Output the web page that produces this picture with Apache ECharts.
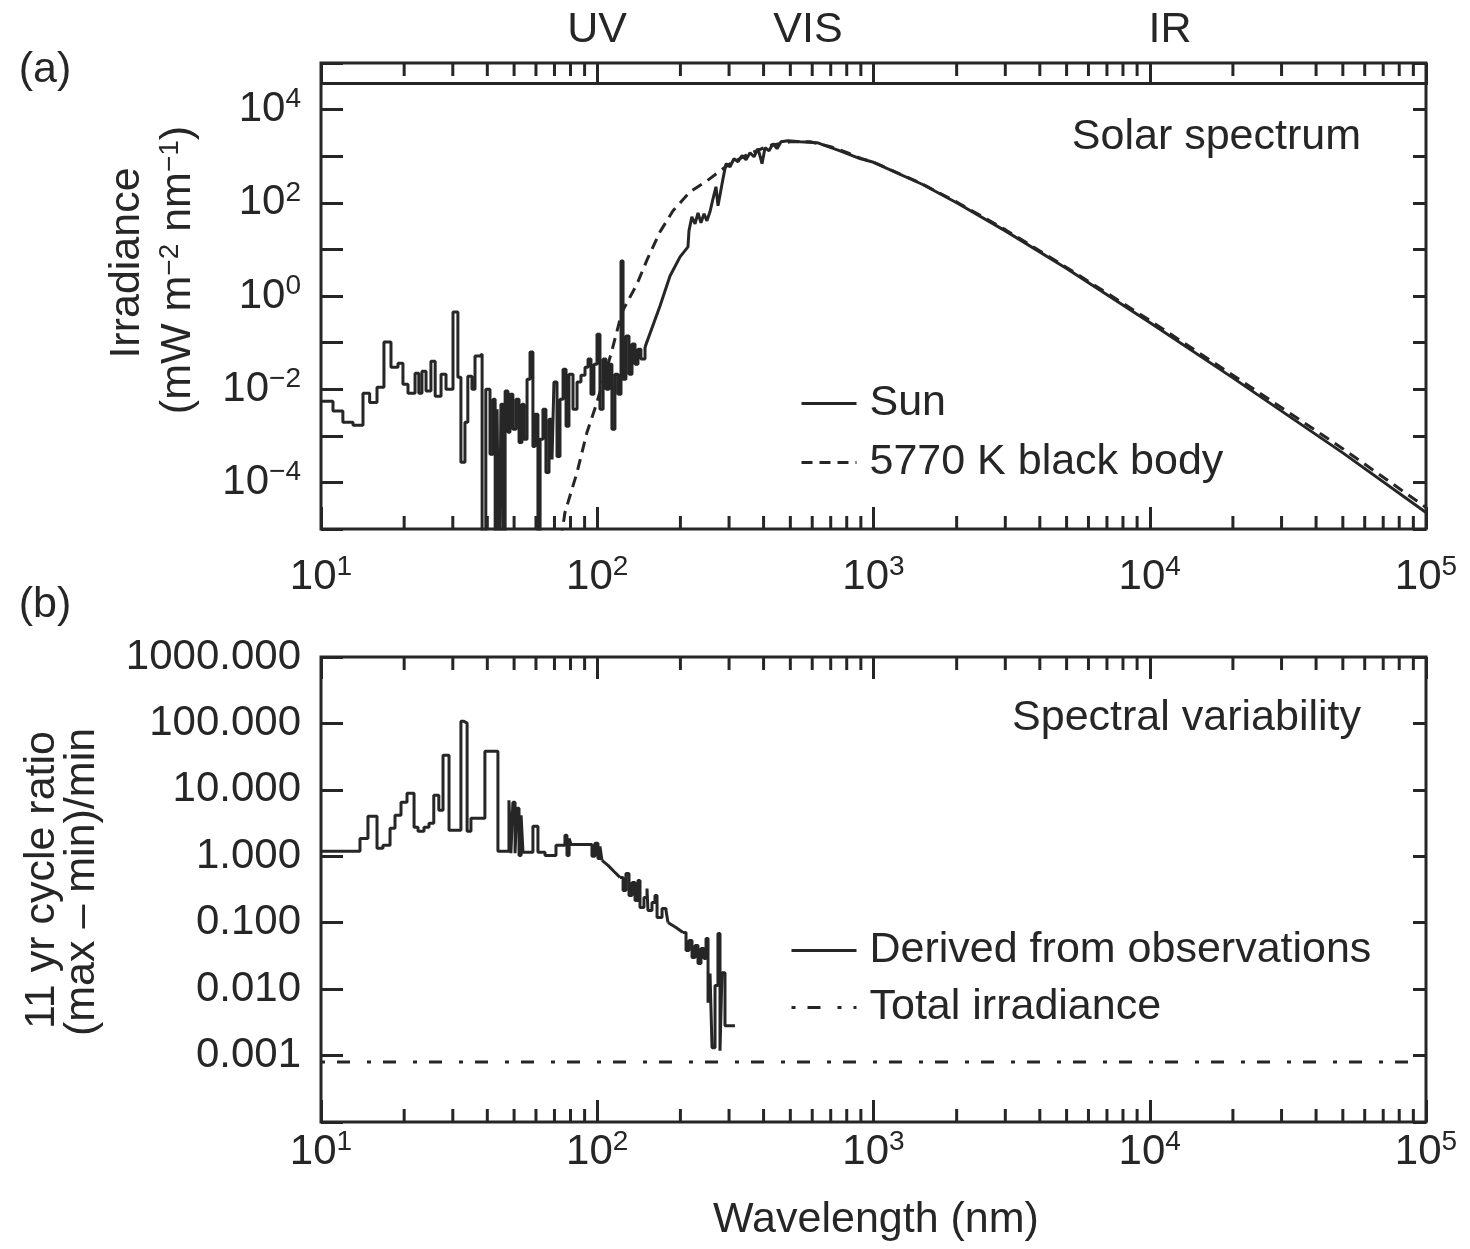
<!DOCTYPE html>
<html>
<head>
<meta charset="utf-8">
<script src="https://cdn.jsdelivr.net/npm/echarts@6/dist/echarts.min.js"></script>
<style>
  html, body { margin: 0; padding: 0; background: #ffffff; }
  #chart { width: 1470px; height: 1249px; }
</style>
</head>
<body>
<div id="chart"></div>
<script>
// ---- data -----------------------------------------------------------------
// Solar spectral irradiance (nm, mW m-2 nm-1); binned below ~149 nm
const sunWavelength = [
  10, 11.05, 12.0, 13.06, 14.19, 15.0, 15.95, 16.9, 17.92, 19.0,
  19.8, 20.65, 21.9, 22.6, 23.2, 24.0, 25.0, 25.9, 27.2, 28.35,
  30.05, 31.3, 32.1, 33.2, 34.0, 35.2, 36.1, 37.6, 38.3, 39.5,
  40.9, 41.95, 42.7, 43.4, 44.1, 44.8, 45.6, 46.4, 47.5, 48.3,
  49.5, 50.8, 52.1, 53.4, 54.3, 55.7, 57.1, 58.5, 59.5, 61.0,
  62.1, 63.6, 65.2, 66.9, 68.6, 69.7, 71.5, 73.3, 75.2, 77.1,
  79.0, 81.7, 84.5, 87.3, 90.3, 92.6, 94.9, 97.3, 99.8, 102.3,
  105, 107.6, 110.3, 113, 115.9, 118.9, 121.9, 124, 127, 130.3,
  133.6, 137, 140.4, 143.9, 148.9,
  168.7, 183.4, 199.4, 213, 214.8, 220, 225.9, 231.6, 237.4, 243.5,
  249.5, 255.9, 262.4, 269, 273.6, 285.2, 292.4, 302.4, 312.6, 323.2,
  334.2, 345.6, 357.3, 369.4, 382, 394.9, 404.9, 418.6, 432.8, 447.4,
  462.6, 490.4, 542, 624.5, 756.5, 893, 1000, 1500, 2000, 3000,
  5000, 10000, 20000, 50000, 100000
];
const sunIrradiance = [
  5.5e-3, 3.4e-3, 1.95e-3, 1.68e-3, 8.2e-3, 5.2e-3, 0.011, 0.1025, 0.0297, 0.0362,
  0.0128, 8.2e-3, 0.0221, 8.2e-3, 0.0244, 9.1e-3, 0.04, 7.1e-3, 0.021, 0.01,
  0.453, 0.0181, 2.7e-4, 1.95e-3, 0.019, 0.01, 0.0513, 0.0566, 1e-7, 0.01,
  4.0e-4, 6.1e-3, 1e-7, 3.7e-3, 1e-7, 4.75e-3, 1e-7, 9.1e-3, 1.19e-3, 7.8e-3,
  1.38e-3, 6.1e-3, 7.2e-4, 4.75e-3, 8.4e-4, 0.0164, 0.0625, 5.9e-4, 2.9e-3, 1e-7,
  8.4e-4, 3.7e-3, 1.64e-4, 2.26e-3, 3.1e-4, 0.0142, 3.6e-4, 6.1e-3, 0.0269, 1.6e-3,
  0.021, 3.7e-3, 0.0142, 0.02, 0.0297, 0.0442, 7.8e-3, 0.0345, 0.152, 3.7e-3,
  0.0442, 0.01, 0.0345, 1.38e-3, 0.021, 7.8e-3, 5.66, 0.0164, 0.138, 0.021,
  0.093, 0.0345, 0.0724, 0.0442, 0.08,
  0.61, 2.69, 6.9, 11.3, 25, 50, 35.3, 61, 37.2, 58,
  41, 64, 122, 221, 86, 328, 690, 594, 883, 762,
  1026, 841, 1189, 975, 1449, 690, 1525, 1312, 1858, 1449,
  2052, 2153, 2052, 1951, 1300, 890, 740, 250, 100, 25,
  3.9, 0.27, 0.0175, 4.3e-4, 2.26e-5
];
// wavelength where the binned part of the solar curve ends
const sunBinnedUntil = 148.9;

// 5770 K black body (nm, mW m-2 nm-1)
const blackBodyWavelength = [
  73.9, 76.4, 84.5, 91.8, 99.0, 112.1, 122.9, 139.3, 151.4, 168.7,
  188, 216.7, 249.7, 285.2, 302.4, 357, 422, 500, 590, 700,
  800, 900, 1000, 1500, 2000, 3000, 5000, 10000, 20000, 50000,
  100000
];
const blackBodyIrradiance = [
  5.9e-6, 2.26e-5, 1.64e-4, 1.19e-3, 4.5e-3, 0.0566, 0.453, 1.81, 5.94, 23.8,
  67.3, 173, 297, 538, 690, 1150, 1700, 2050, 2050, 1600,
  1200, 900, 745, 255, 104, 26.5, 4.1, 0.30, 0.0200, 5.3e-4,
  2.9e-5
];

// 11-year cycle (max - min)/min ratio derived from observations
const variabilityWavelength = [
  10, 13.84, 14.79, 15.95, 16.76, 17.78, 18.53, 19.48, 20.48, 21.72,
  22.45, 23.6, 24.6, 25.6, 26.7, 27.65, 29.07, 32.1, 32.9, 33.8,
  34.9, 39.2, 43.7, 47.9, 48.7, 49.5, 50.4, 51.2, 52.1, 53.0,
  53.85, 58.5, 61.0, 64.7, 70.9, 76.4, 77.7, 79.1, 80.4, 95.7,
  98.1, 100.6, 102.3, 104, 109.4, 115, 120.9, 124, 127, 130.3,
  133.6, 137, 140.4, 142.8, 147.6, 151.4, 152.6, 157.8, 161.8, 164.6,
  171.6, 177.4, 180.3, 192.8, 204.4, 209.6, 214.8, 220.3, 225.9, 231.6,
  237.4, 243.4, 247.6, 251.8, 256.0, 260.3, 266.9, 273.5, 278.2, 282.8,
  290, 315.1
];
const variabilityRatio = [
  1.19, 1.86, 4.0, 1.32, 1.46, 2.64, 4.14, 6.5, 8.9, 2.73,
  2.38, 2.73, 3.13, 8.3, 4.92, 33.3, 2.46, 108, 101, 2.38,
  3.73, 38.2, 1.19, 6.97, 1.11, 6.5, 1.11, 5.27, 1.03, 4.14,
  1.15, 2.83, 1.15, 1.03, 1.46, 2.07, 1.03, 1.86, 1.51, 1.0,
  1.57, 0.93, 1.41, 0.867, 0.73, 0.59, 0.481, 0.306, 0.552, 0.257,
  0.404, 0.216, 0.433, 0.169, 0.24, 0.328, 0.153, 0.202, 0.257, 0.12,
  0.164, 0.153, 0.1007, 0.0847, 0.0711, 0.0381, 0.054, 0.0299, 0.0453, 0.0243,
  0.0408, 0.0289, 0.0578, 0.00625, 0.0171, 0.00131, 0.0113, 0.0687, 0.00118, 0.0177,
  0.00281, 0.00281
];
// wavelength spans drawn as straight segments rather than bins
const variabilitySlopes = [[104, 120.9], [180.3, 204.4]];

// total solar irradiance cycle ratio
const totalIrradianceRatio = 0.0008;

// spectral regions named along the top
const regionNames = ['UV', 'VIS', 'IR'];

// ---- styling ----------------------------------------------------------------
const INK = '#262626';
const FONT = '"Liberation Sans", Arial, Helvetica, sans-serif';
const FS = 42;      // tick labels
const FT = 43;      // titles, notes, legend
const SUP = 28;
const LW = 3;

const richPow = {
  b: { fontSize: FS, fontFamily: FONT, color: INK, lineHeight: 48 },
  s: { fontSize: SUP, fontFamily: FONT, color: INK, lineHeight: 30, verticalAlign: 'top' }
};
function powerLabel(e) {
  return '{b|10}{s|' + (e < 0 ? '\u2212' : '') + Math.abs(e) + '}';
}
function expOf(v) { return Math.round(Math.log10(v)); }

function pairs(xs, ys, keep) {
  const out = [];
  for (let i = 0; i < xs.length; i++) if (!keep || keep(xs[i])) out.push([xs[i], ys[i]]);
  return out;
}

// minor ticks at 2..9 x 10^k across the wavelength range
const minorTicks = [];
for (let k = 1; k < 5; k++) for (let m = 2; m <= 9; m++) minorTicks.push(m * Math.pow(10, k));

function minorTickSeries(xi, yi) {
  return {
    type: 'custom', xAxisIndex: xi, yAxisIndex: yi, silent: true, z: 4,
    data: minorTicks.map(v => [v]),
    renderItem(params, api) {
      const cs = params.coordSys;
      const x = api.coord([api.value(0), 1])[0];
      const st = { stroke: INK, lineWidth: 3 };
      return {
        type: 'group', children: [
          { type: 'line', shape: { x1: x, y1: cs.y + cs.height, x2: x, y2: cs.y + cs.height - 13 }, style: st },
          { type: 'line', shape: { x1: x, y1: cs.y, x2: x, y2: cs.y + 13 }, style: st }
        ]
      };
    }
  };
}

function logAxis(extra) {
  return Object.assign({
    type: 'log', logBase: 10, interval: 1,
    axisLine: { show: false },
    splitLine: { show: false },
    minorTick: { show: false },
    axisTick: { show: true, inside: true, length: 22, lineStyle: { color: INK, width: 3 } },
    axisLabel: { show: false }
  }, extra);
}

const grids = [
  { left: 321, right: 44, top: 63, height: 466 },
  { left: 321, right: 44, top: 657, height: 465 }
].map(g => Object.assign(g, { show: true, borderColor: INK, borderWidth: 3, backgroundColor: 'transparent' }));

const xAxes = [
  logAxis({ gridIndex: 0, position: 'bottom', min: 10, max: 100000,
    axisLabel: { show: true, margin: 24, formatter: v => powerLabel(expOf(v)), rich: richPow } }),
  logAxis({ gridIndex: 0, position: 'top', min: 10, max: 100000 }),
  logAxis({ gridIndex: 1, position: 'bottom', min: 10, max: 100000,
    axisLabel: { show: true, margin: 6, formatter: v => powerLabel(expOf(v)), rich: richPow } }),
  logAxis({ gridIndex: 1, position: 'top', min: 10, max: 100000 })
];

const yAxes = [
  logAxis({ gridIndex: 0, position: 'left', min: 1e-5, max: 1e5,
    axisLabel: { show: true, margin: 20, rich: richPow,
      formatter: v => { const e = expOf(v); return (e % 2 === 0 && e >= -4 && e <= 4) ? powerLabel(e) : ''; } } }),
  logAxis({ gridIndex: 0, position: 'right', min: 1e-5, max: 1e5,
    axisTick: { show: true, inside: true, length: 13, lineStyle: { color: INK, width: 3 } } }),
  logAxis({ gridIndex: 1, position: 'left', min: 1e-4, max: 1e3,
    axisLabel: { show: true, margin: 20, fontSize: FS, fontFamily: FONT, color: INK,
      formatter: v => { const e = expOf(v); return (e >= -3 && e <= 3) ? Math.pow(10, e).toFixed(3) : ''; } } }),
  logAxis({ gridIndex: 1, position: 'right', min: 1e-4, max: 1e3,
    axisTick: { show: true, inside: true, length: 13, lineStyle: { color: INK, width: 3 } } })
];

const baseLine = (extra) => Object.assign({
  type: 'line', symbol: 'none', showSymbol: false, clip: true, silent: true,
  lineStyle: { color: INK, width: LW }, itemStyle: { color: INK }, z: 3
}, extra);

const variabilitySeries = [];
// binned runs between the straight spans
const cuts = [variabilityWavelength[0]].concat(...variabilitySlopes).concat([variabilityWavelength[variabilityWavelength.length - 1]]);
for (let i = 0; i < cuts.length - 1; i++) {
  const a = cuts[i], b = cuts[i + 1];
  const sloped = variabilitySlopes.some(r => r[0] === a && r[1] === b);
  variabilitySeries.push(baseLine({
    name: 'Derived from observations', xAxisIndex: 2, yAxisIndex: 2,
    step: sloped ? false : 'end',
    data: pairs(variabilityWavelength, variabilityRatio, w => w >= a && w <= b)
  }));
}

const series = [
  baseLine({ name: 'Sun', xAxisIndex: 0, yAxisIndex: 0, step: 'end',
    data: pairs(sunWavelength, sunIrradiance, w => w <= sunBinnedUntil),
    markLine: { silent: true, symbol: 'none', label: { show: false }, animation: false,
      lineStyle: { color: INK, width: 3, type: 'solid' }, data: [{ yAxis: 36200 }] } }),
  baseLine({ name: 'Sun', xAxisIndex: 0, yAxisIndex: 0,
    data: pairs(sunWavelength, sunIrradiance, w => w >= sunBinnedUntil) }),
  baseLine({ name: '5770 K black body', xAxisIndex: 0, yAxisIndex: 0,
    lineStyle: { color: INK, width: LW, type: [11, 7] },
    data: pairs(blackBodyWavelength, blackBodyIrradiance) }),
  ...variabilitySeries,
  baseLine({ name: 'Total irradiance', xAxisIndex: 2, yAxisIndex: 2,
    lineStyle: { color: INK, width: LW, type: [4, 12, 13, 17] },
    data: [[10, totalIrradianceRatio], [100000, totalIrradianceRatio]] }),
  minorTickSeries(0, 0),
  minorTickSeries(2, 2)
];

const legendText = { fontSize: FT, fontFamily: FONT, color: INK, padding: [0, 0, 0, 8] };
const legendCommon = {
  orient: 'vertical', itemHeight: 41, selectedMode: false, textStyle: legendText,
  itemStyle: { opacity: 0 },
  lineStyle: { width: LW }
};

function txt(x, y, text, opts) {
  return {
    type: 'text', x: x, y: y, silent: true,
    style: Object.assign({ text: text, fontSize: FT, fontFamily: FONT, fill: INK,
      align: 'center', verticalAlign: 'middle', textAlign: 'center', textVerticalAlign: 'middle' }, opts || {})
  };
}
const richTitle = {
  s: { fontSize: SUP, fontFamily: FONT, fill: INK, color: INK, verticalAlign: 'top', lineHeight: 30 }
};
function vtxt(x, y, text, opts) {
  return Object.assign(txt(x, y, text, opts), { rotation: Math.PI / 2 });
}

const option = {
  animation: false,
  backgroundColor: '#ffffff',
  textStyle: { fontFamily: FONT, color: INK },
  grid: grids,
  xAxis: xAxes,
  yAxis: yAxes,
  legend: [
    Object.assign({ data: ['Sun', '5770 K black body'], left: 795, top: 377,
      itemWidth: 55, itemGap: 16 }, legendCommon),
    Object.assign({ data: ['Derived from observations', 'Total irradiance'], left: 785, top: 924,
      itemWidth: 65, itemGap: 14 }, legendCommon)
  ],
  graphic: [
    txt(45, 70, '(a)'),
    txt(45, 605, '(b)'),
    txt(597, 30, regionNames[0]),
    txt(808, 30, regionNames[1]),
    txt(1170, 30, regionNames[2]),
    txt(1361, 137, 'Solar spectrum', { align: 'right', textAlign: 'right' }),
    txt(1361, 718, 'Spectral variability', { align: 'right', textAlign: 'right' }),
    txt(876, 1220, 'Wavelength (nm)'),
    vtxt(127, 263, 'Irradiance'),
    vtxt(178, 270, '(mW m{s|\u22122} nm{s|\u22121})', { rich: richTitle }),
    vtxt(42, 880, '11 yr cycle ratio'),
    vtxt(82, 882, '(max \u2013 min)/min')
  ],
  series: series
};

const chart = echarts.init(document.getElementById('chart'), null, { renderer: 'canvas' });
chart.setOption(option);
</script>
</body>
</html>
